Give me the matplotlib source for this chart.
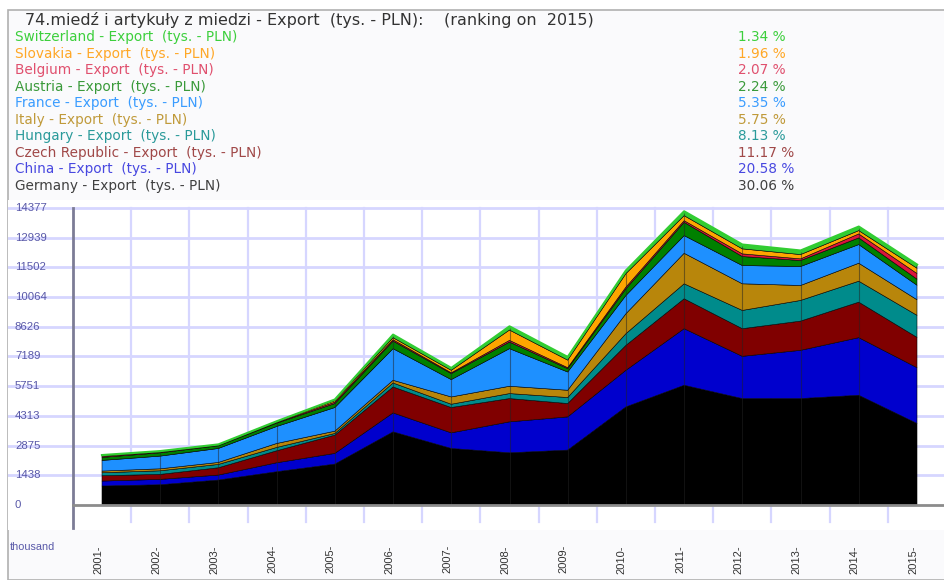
import matplotlib
matplotlib.use("Agg")
from matplotlib import pyplot as plt
from matplotlib.patches import Rectangle
from matplotlib import transforms
import numpy as np

# values in thousand PLN
years = list(range(2001, 2016))
germany = [918, 981, 1208, 1610, 1980, 3541, 2737, 2527, 2657, 4748, 5796, 5152, 5152, 5313, 3947]
china = [241, 259, 241, 434, 517, 917, 756, 1498, 1608, 1773, 2739, 2045, 2335, 2787, 2702]
czech = [256, 242, 354, 580, 884, 1256, 1226, 1127, 647, 1207, 1448, 1338, 1415, 1720, 1467]
hungary = [145, 174, 161, 161, 82, 193, 159, 242, 290, 565, 725, 884, 1000, 1014, 1067]
italy = [82, 97, 97, 193, 111, 131, 353, 354, 353, 966, 1478, 1289, 724, 870, 755]
france = [516, 614, 676, 822, 1145, 1530, 840, 1820, 884, 884, 855, 884, 918, 903, 702]
austria = [145, 160, 129, 160, 193, 368, 290, 320, 162, 322, 643, 435, 290, 323, 294]
belgium = [48, 33, 24, 30, 68, 64, 40, 82, 49, 85, 81, 130, 81, 193, 272]
slovakia = [32, 25, 20, 30, 70, 100, 120, 500, 364, 650, 242, 242, 208, 160, 257]
switzerland = [32, 23, 21, 30, 55, 145, 110, 176, 150, 150, 208, 207, 194, 193, 176]

# legend order (top to bottom) and 2015 shares
names = ["Switzerland", "Slovakia", "Belgium", "Austria", "France", "Italy",
         "Hungary", "Czech Republic", "China", "Germany"]
shares = ["1.34 %", "1.96 %", "2.07 %", "2.24 %", "5.35 %", "5.75 %",
          "8.13 %", "11.17 %", "20.58 %", "30.06 %"]
fill_colors = ["#32cd32", "#ffa500", "#dc143c", "#008000", "#1e90ff", "#b8860b",
               "#008b8b", "#800000", "#0000cd", "#000000"]
text_colors = ["#3ccf3c", "#ffa726", "#e0506e", "#3a9a3a", "#3a9cff", "#c09a3a",
               "#2a9a9a", "#a04848", "#4848e0", "#404040"]

yticks = [0, 1438, 2875, 4313, 5751, 7189, 8626, 10064, 11502, 12939, 14377]

W, H = 945, 580
fig = plt.figure(figsize=(W / 100, H / 100), dpi=100)
fig.patch.set_facecolor("white")

# outer frame of the widget
fig.patches.append(Rectangle((8 / W, 0), (W - 8) / W, 1 - 10 / H, transform=fig.transFigure,
                             facecolor="#fafafc", edgecolor="#b0b0b0", linewidth=1.2, zorder=-10))

# header: title + colored legend with shares
fig.text(25 / W, 1 - 20 / H, "74.miedź i artykuły z miedzi - Export  (tys. - PLN):    (ranking on  2015)",
         fontsize=11.5, color="#333333", va="center", ha="left")
for i, (n, s, c) in enumerate(zip(names, shares, text_colors)):
    y = 1 - (37 + i * 16.55) / H
    fig.text(15 / W, y, n + " - Export  (tys. - PLN)", fontsize=9.8, color=c, va="center", ha="left")
    fig.text(738 / W, y, s, fontsize=9.8, color=c, va="center", ha="left")

# plot area in pixel terms
ax_l, ax_r, ax_t, ax_b = 8, 945, 200, 530
ax = fig.add_axes([ax_l / W, 1 - ax_b / H, (ax_r - ax_l) / W, (ax_b - ax_t) / H])
ax.set_facecolor("white")
ax.set_zorder(2)

px_year = (917 - 102) / 14
px_val = 14377 / (505 - 208)
ax.set_xlim(2001 - (102 - ax_l) / px_year, 2015 + (ax_r - 917) / px_year)
ax.set_ylim(-(ax_b - 505) * px_val, 14377 + (208 - ax_t) * px_val)
for sp in ax.spines.values():
    sp.set_visible(False)
ax.set_xticks([])
ax.set_yticks([])

# grid
for v in yticks[1:]:
    ax.axhline(v, color="#d6d6ff", linewidth=2.0, zorder=1)
for x in np.arange(2001.5, 2015.5, 1):
    ax.plot([x, x], [14377, -17 * px_val], color="#d6d6ff", linewidth=1.6, zorder=1)

# stacked areas, bottom = Germany
series = [germany, china, czech, hungary, italy, france, austria, belgium, slovakia, switzerland]
cols = fill_colors[::-1]
ax.stackplot(years, *series, colors=cols, linewidth=0.4, edgecolors=cols, zorder=3)
total = np.sum(series, axis=0)
ax.plot(years, total, color="#32cd32", linewidth=1.6, zorder=4)
# faint seams between the yearly segments
ax.vlines(years[1:-1], 0, total[1:-1] - 60, color="#222222", linewidth=0.8, alpha=0.5, zorder=3.5)

# axis lines
ax.plot([2000.5, 2000.5], [14377, -23 * px_val], color="#7c7c96", linewidth=2, zorder=5)
ax.plot([2000.5, ax.get_xlim()[1]], [0, 0], color="#8c8c8c", linewidth=2, zorder=5)

# y tick labels placed on the left edge
tr_y = transforms.blended_transform_factory(fig.transFigure, ax.transData)
for v in yticks:
    ax.text(15 / W, v, str(v), transform=tr_y, fontsize=8.2, color="#5858a8",
            va="center", ha="left", family="Liberation Sans", zorder=6)

# x tick labels, rotated, running off the bottom
tr_x = transforms.blended_transform_factory(ax.transData, fig.transFigure)
for yr in years:
    ax.text(yr - 4 / px_year, 1 - 545 / H, f"{yr}-", transform=tr_x, rotation=90,
            fontsize=8, color="#333333", va="top", ha="center", family="Liberation Sans",
            clip_on=False)

fig.text(10 / W, 1 - 547 / H, "thousand", fontsize=7.8, color="#5858a8", va="center",
         ha="left", family="Liberation Sans")

fig.savefig("out.png", dpi=100)
